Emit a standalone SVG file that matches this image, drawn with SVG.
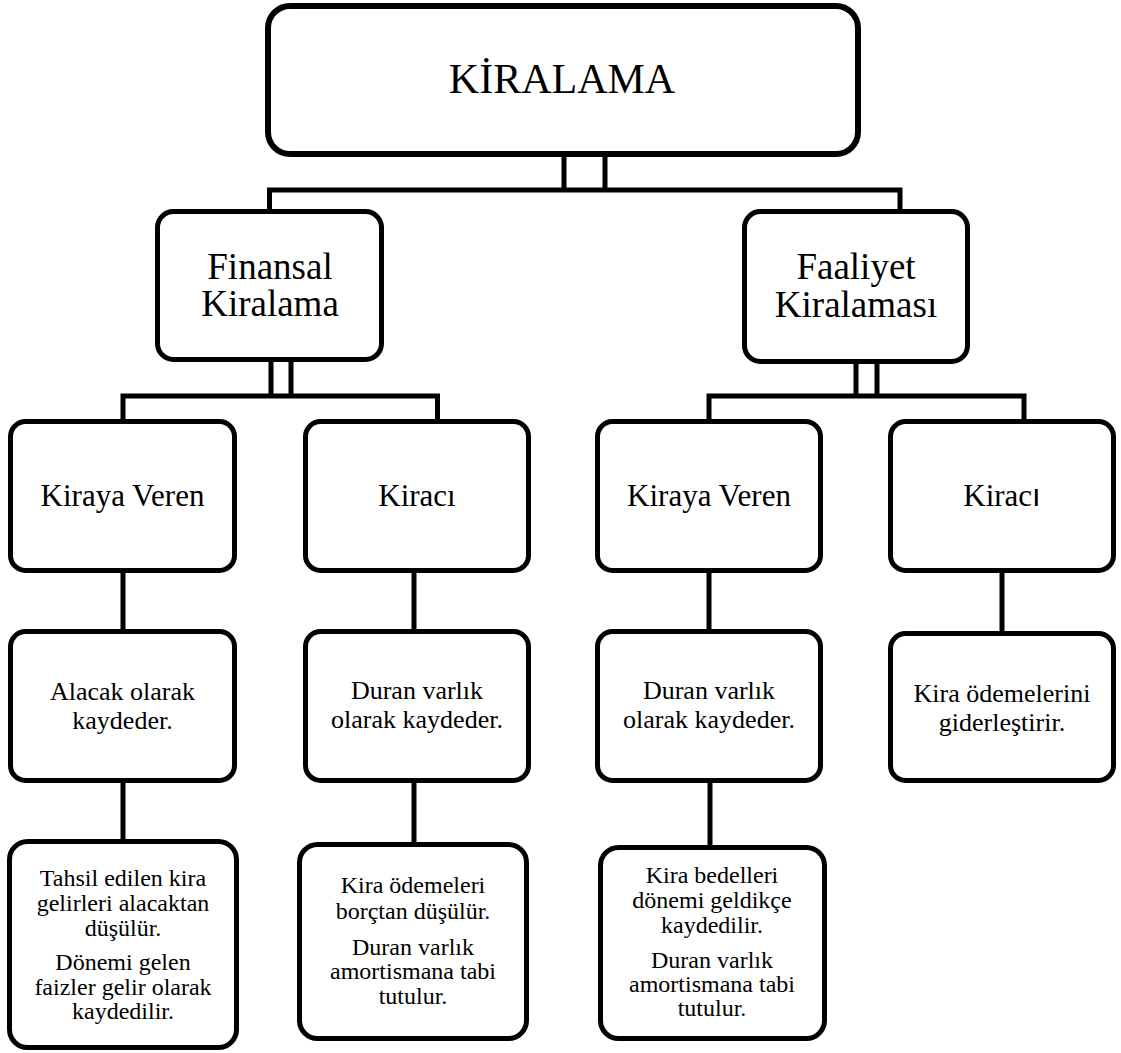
<svg xmlns="http://www.w3.org/2000/svg" width="1121" height="1053" viewBox="0 0 1121 1053">
<style>
.box{fill:#fff;stroke:#000;stroke-width:5}
.ln{fill:none;stroke:#000;stroke-width:5;stroke-linejoin:miter;stroke-linecap:butt}
.t1{font-size:42px}
.t2{font-size:37px}
.t3{font-size:31px}
.t4{font-size:26px}
.t5{font-size:24px}
</style>
<rect width="1121" height="1053" fill="#fff"/>
<g id="connectors">
<path class="ln" d="M564,155 V190 M605,155 V190"/>
<path class="ln" d="M269.5,211 V190 H900 V211"/>
<path class="ln" d="M271,360 V396 M291,360 V396"/>
<path class="ln" d="M123,421 V396 H437.5 V421"/>
<path class="ln" d="M856,362 V396 M877,362 V396"/>
<path class="ln" d="M709,421 V396 H1024 V421"/>
<path class="ln" d="M123,571 V631"/>
<path class="ln" d="M414,571 V631"/>
<path class="ln" d="M709,571 V631"/>
<path class="ln" d="M1002,571 V633"/>
<path class="ln" d="M123,781 V841"/>
<path class="ln" d="M414,781 V844"/>
<path class="ln" d="M710,781 V847"/>
</g>
<g font-family="'Liberation Serif', Tinos, 'Times New Roman', 'DejaVu Serif', serif" fill="#000" text-anchor="middle">
<g id="n-kiralama">
<rect class="box" x="268" y="6" width="590" height="148" rx="22" style="stroke-width:6"/>
<text class="t1" x="562" y="93">KİRALAMA</text>
</g>
<g id="n-finansal">
<rect class="box" x="157.5" y="211.5" width="224" height="148" rx="16"/>
<text class="t2" x="270" y="279">Finansal</text>
<text class="t2" x="270" y="316">Kiralama</text>
</g>
<g id="n-faaliyet">
<rect class="box" x="744.5" y="211.5" width="223" height="150" rx="16"/>
<text class="t2" x="856" y="279">Faaliyet</text>
<text class="t2" x="856" y="317">Kiralaması</text>
</g>
<g id="n-kv1">
<rect class="box" x="10.5" y="421.5" width="224" height="149" rx="15"/>
<text class="t3" x="122.5" y="506">Kiraya Veren</text>
</g>
<g id="n-kiraci1">
<rect class="box" x="305.5" y="421.5" width="223" height="149" rx="15"/>
<text class="t3" x="417" y="506">Kiracı</text>
</g>
<g id="n-kv2">
<rect class="box" x="597.5" y="421.5" width="223" height="149" rx="15"/>
<text class="t3" x="709" y="506">Kiraya Veren</text>
</g>
<g id="n-kiraci2">
<rect class="box" x="890.5" y="421.5" width="223" height="149" rx="15"/>
<text class="t3" x="1002" y="506">Kirac<tspan font-family="'Liberation Sans', Arimo, Arial, sans-serif">ı</tspan></text>
</g>
<g id="n-alacak">
<rect class="box" x="10.5" y="631.5" width="224" height="149" rx="15"/>
<text class="t4" x="122.5" y="700">Alacak olarak</text>
<text class="t4" x="122.5" y="729">kaydeder.</text>
</g>
<g id="n-duran1">
<rect class="box" x="305.5" y="631.5" width="223" height="149" rx="15"/>
<text class="t4" x="417" y="699">Duran varlık</text>
<text class="t4" x="417" y="728">olarak kaydeder.</text>
</g>
<g id="n-duran2">
<rect class="box" x="597.5" y="631.5" width="223" height="149" rx="15"/>
<text class="t4" x="709" y="699">Duran varlık</text>
<text class="t4" x="709" y="728">olarak kaydeder.</text>
</g>
<g id="n-gider">
<rect class="box" x="890.5" y="633.5" width="223" height="147" rx="15"/>
<text class="t4" x="1002" y="702">Kira ödemelerini</text>
<text class="t4" x="1002" y="731">giderleştirir.</text>
</g>
<g id="n-tahsil">
<rect class="box" x="9.5" y="841.5" width="227" height="206" rx="18"/>
<text class="t5" x="123" y="886">Tahsil edilen kira</text>
<text class="t5" x="123" y="911">gelirleri alacaktan</text>
<text class="t5" x="123" y="936">düşülür.</text>
<text class="t5" x="123" y="970">Dönemi gelen</text>
<text class="t5" x="123" y="995">faizler gelir olarak</text>
<text class="t5" x="123" y="1019">kaydedilir.</text>
</g>
<g id="n-borc">
<rect class="box" x="299.5" y="844.5" width="227" height="194" rx="18"/>
<text class="t5" x="413" y="893">Kira ödemeleri</text>
<text class="t5" x="413" y="919">borçtan düşülür.</text>
<text class="t5" x="413" y="955">Duran varlık</text>
<text class="t5" x="413" y="979">amortismana tabi</text>
<text class="t5" x="413" y="1004">tutulur.</text>
</g>
<g id="n-bedel">
<rect class="box" x="600.5" y="847.5" width="224" height="191" rx="18"/>
<text class="t5" x="712" y="883">Kira bedelleri</text>
<text class="t5" x="712" y="908">dönemi geldikçe</text>
<text class="t5" x="712" y="933">kaydedilir.</text>
<text class="t5" x="712" y="968">Duran varlık</text>
<text class="t5" x="712" y="992">amortismana tabi</text>
<text class="t5" x="712" y="1016">tutulur.</text>
</g>
</g>
</svg>
